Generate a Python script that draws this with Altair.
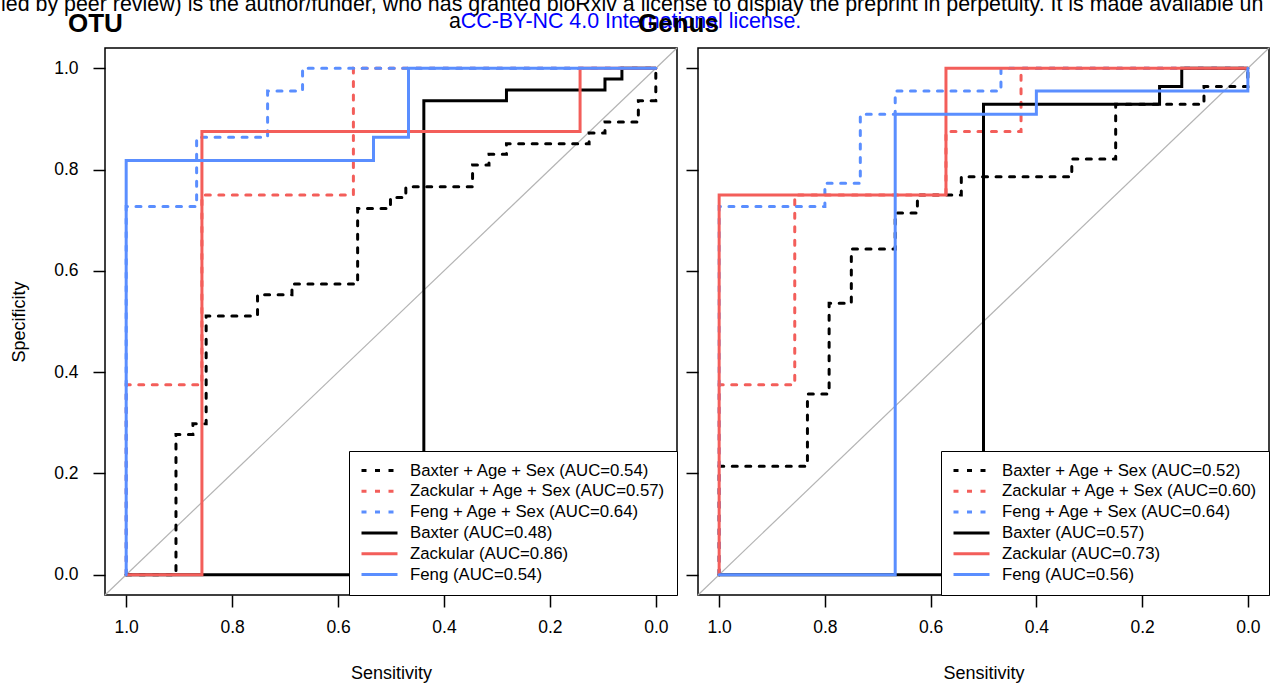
import altair as alt
import pandas as pd

FONT = "Liberation Sans"
RED = "#F35E5A"
BLUE = "#5A8EFF"
BLACK = "#000000"
GREY = "#B4B4B4"

# ---- legend text and AUCs, in drawing order ----
series_names = ["Baxter + Age + Sex", "Zackular + Age + Sex", "Feng + Age + Sex",
                "Baxter", "Zackular", "Feng"]
otu_auc = ["0.54", "0.57", "0.64", "0.48", "0.86", "0.54"]
genus_auc = ["0.52", "0.60", "0.64", "0.57", "0.73", "0.56"]

# ---- OTU models: ROC corners (sensitivity, specificity) ----
otu_baxter_as_sens = [1.0, 0.906, 0.906, 0.874, 0.874, 0.849, 0.849, 0.752, 0.752, 0.687, 0.687,
                      0.563, 0.563, 0.501, 0.501, 0.472, 0.472, 0.346, 0.346, 0.315, 0.315,
                      0.282, 0.282, 0.126, 0.126, 0.096, 0.096, 0.033, 0.033, 0.0, 0.0]
otu_baxter_as_spec = [0.0, 0.0, 0.277, 0.277, 0.298, 0.298, 0.511, 0.511, 0.553, 0.553, 0.574,
                      0.574, 0.723, 0.723, 0.745, 0.745, 0.766, 0.766, 0.809, 0.809, 0.830,
                      0.830, 0.851, 0.851, 0.872, 0.872, 0.894, 0.894, 0.936, 0.936, 1.0]
otu_zackular_as_sens = [1.0, 1.0, 0.857, 0.857, 0.571, 0.571, 0.0]
otu_zackular_as_spec = [0.0, 0.375, 0.375, 0.75, 0.75, 1.0, 1.0]
otu_feng_as_sens = [1.0, 1.0, 0.867, 0.867, 0.733, 0.733, 0.667, 0.667, 0.0]
otu_feng_as_spec = [0.0, 0.727, 0.727, 0.864, 0.864, 0.955, 0.955, 1.0, 1.0]
otu_baxter_sens = [1.0, 0.438, 0.438, 0.282, 0.282, 0.096, 0.096, 0.064, 0.064, 0.0]
otu_baxter_spec = [0.0, 0.0, 0.936, 0.936, 0.957, 0.957, 0.979, 0.979, 1.0, 1.0]
otu_zackular_sens = [1.0, 0.857, 0.857, 0.143, 0.143, 0.0]
otu_zackular_spec = [0.0, 0.0, 0.875, 0.875, 1.0, 1.0]
otu_feng_sens = [1.0, 1.0, 0.533, 0.533, 0.467, 0.467, 0.0]
otu_feng_spec = [0.0, 0.818, 0.818, 0.864, 0.864, 1.0, 1.0]

# ---- Genus models ----
genus_baxter_as_sens = [1.0, 1.0, 0.833, 0.833, 0.792, 0.792, 0.75, 0.75, 0.667, 0.667, 0.625,
                        0.625, 0.542, 0.542, 0.333, 0.333, 0.25, 0.25, 0.083, 0.083, 0.0, 0.0]
genus_baxter_as_spec = [0.0, 0.214, 0.214, 0.357, 0.357, 0.536, 0.536, 0.643, 0.643, 0.714, 0.714,
                        0.75, 0.75, 0.786, 0.786, 0.821, 0.821, 0.929, 0.929, 0.964, 0.964, 1.0]
genus_zackular_as_sens = [1.0, 1.0, 0.857, 0.857, 0.571, 0.571, 0.429, 0.429, 0.0]
genus_zackular_as_spec = [0.0, 0.375, 0.375, 0.75, 0.75, 0.875, 0.875, 1.0, 1.0]
genus_feng_as_sens = [1.0, 1.0, 0.8, 0.8, 0.733, 0.733, 0.667, 0.667, 0.467, 0.467, 0.0]
genus_feng_as_spec = [0.0, 0.727, 0.727, 0.773, 0.773, 0.909, 0.909, 0.955, 0.955, 1.0, 1.0]
genus_baxter_sens = [1.0, 0.5, 0.5, 0.167, 0.167, 0.125, 0.125, 0.0]
genus_baxter_spec = [0.0, 0.0, 0.929, 0.929, 0.964, 0.964, 1.0, 1.0]
genus_zackular_sens = [1.0, 1.0, 0.571, 0.571, 0.0]
genus_zackular_spec = [0.0, 0.75, 0.75, 1.0, 1.0]
genus_feng_sens = [1.0, 0.667, 0.667, 0.4, 0.4, 0.0, 0.0]
genus_feng_spec = [0.0, 0.0, 0.909, 0.909, 0.955, 0.955, 1.0]

# chance line, running corner to corner of the padded frame
chance_sens = [1.04, -0.04]
chance_spec = [-0.04, 1.04]

tick_values = [0.0, 0.2, 0.4, 0.6, 0.8, 1.0]

header_line = ("ied by peer review) is the author/funder, who has granted bioRxiv a license "
               "to display the preprint in perpetuity. It is made available under")
license_prefix = "a"
license_text = "CC-BY-NC 4.0 International license."

otu_curves = [
    (otu_baxter_as_sens, otu_baxter_as_spec),
    (otu_zackular_as_sens, otu_zackular_as_spec),
    (otu_feng_as_sens, otu_feng_as_spec),
    (otu_baxter_sens, otu_baxter_spec),
    (otu_zackular_sens, otu_zackular_spec),
    (otu_feng_sens, otu_feng_spec),
]
genus_curves = [
    (genus_baxter_as_sens, genus_baxter_as_spec),
    (genus_zackular_as_sens, genus_zackular_as_spec),
    (genus_feng_as_sens, genus_feng_as_spec),
    (genus_baxter_sens, genus_baxter_spec),
    (genus_zackular_sens, genus_zackular_spec),
    (genus_feng_sens, genus_feng_spec),
]

series_colors = [BLACK, RED, BLUE, BLACK, RED, BLUE]
DASHED = [5, 8.5]
SOLID = [1, 0]
series_dash = [DASHED, DASHED, DASHED, SOLID, SOLID, SOLID]

PLOT_W = 572
PLOT_H = 547


def text_layer(text, x, y, size, color="black", weight="normal", limit=0):
    props = dict(align="left", baseline="alphabetic", font=FONT, fontSize=size,
                 color=color, fontWeight=weight)
    if limit:
        # cut the running header at the page edge without an ellipsis glyph
        props.update(limit=limit, ellipsis=" ")
    return alt.Chart(pd.DataFrame({"t": [text]})).mark_text(**props).encode(
        text="t:N", x=alt.value(x), y=alt.value(y))


def roc_panel(curves, auc, title, title_dx, left_panel):
    labels = [f"{n} (AUC={a})" for n, a in zip(series_names, auc)]

    x_axis = alt.Axis(values=tick_values, format=".1f", grid=False, domain=False,
                      tickSize=12, tickWidth=1.5, tickColor="black",
                      labelFont=FONT, labelFontSize=17.5, labelColor="black",
                      labelPadding=11, labelFlush=False, labelOverlap=False,
                      title="Sensitivity", titleFont=FONT, titleFontSize=18,
                      titleFontWeight="normal", titleColor="black", titlePadding=29)
    if left_panel:
        y_axis = alt.Axis(values=tick_values, format=".1f", grid=False, domain=False,
                          tickSize=12, tickWidth=1.5, tickColor="black",
                          labelFont=FONT, labelFontSize=17.5, labelColor="black",
                          labelPadding=15, labelFlush=False, labelOverlap=False,
                          title="Specificity", titleFont=FONT, titleFontSize=18,
                          titleFontWeight="normal", titleColor="black", titlePadding=25)
    else:
        y_axis = alt.Axis(values=tick_values, grid=False, domain=False, labels=False,
                          tickSize=12, tickWidth=1.5, tickColor="black", title=None)

    x_enc = alt.X("sens:Q", scale=alt.Scale(domain=[1.04, -0.04], nice=False, zero=False),
                  axis=x_axis)
    y_enc = alt.Y("spec:Q", scale=alt.Scale(domain=[-0.04, 1.04], nice=False, zero=False),
                  axis=y_axis)

    legend = alt.Legend(title=None, orient="bottom-right", offset=0, padding=11,
                        strokeColor="black", fillColor="white",
                        symbolType="stroke", symbolSize=1296, symbolStrokeWidth=3,
                        labelFont=FONT, labelFontSize=16.8, labelColor="black",
                        labelOffset=11, labelLimit=400, clipHeight=17, rowPadding=2.8)
    color_enc = alt.Color("series:N", scale=alt.Scale(domain=labels, range=series_colors),
                          legend=legend)
    dash_enc = alt.StrokeDash("series:N", scale=alt.Scale(domain=labels, range=series_dash),
                              legend=legend)

    chance = alt.Chart(pd.DataFrame({"sens": chance_sens, "spec": chance_spec})).mark_line(
        color=GREY, strokeWidth=1.2).encode(x=x_enc, y=y_enc)

    layers = [chance]
    for label, (sens, spec) in zip(labels, curves):
        df = pd.DataFrame({"sens": sens, "spec": spec,
                           "step": list(range(len(sens))), "series": label})
        layers.append(
            alt.Chart(df).mark_line(strokeWidth=3, strokeCap="round").encode(
                x=x_enc, y=y_enc, order=alt.Order("step:Q"),
                color=color_enc, strokeDash=dash_enc)
        )

    layers.append(text_layer(title, title_dx, -16, 26, weight="bold"))
    if left_panel:
        layers.append(text_layer(header_line, -104, -37, 21.4, limit=1270))
        layers.append(text_layer(license_prefix, 344, -20, 21.4))
        layers.append(text_layer(license_text, 355.8, -20, 21.4, color="#0000FF"))

    return alt.layer(*layers).properties(width=PLOT_W, height=PLOT_H)


left = roc_panel(otu_curves, otu_auc, "OTU", -37, True)
right = roc_panel(genus_curves, genus_auc, "Genus", -60, False).properties(width=571)

chart = (
    alt.hconcat(left, right, spacing=21, bounds="flush")
    .resolve_scale(color="independent", strokeDash="independent")
    .properties(padding={"left": 0, "top": -7, "right": 0, "bottom": 0},
                background="white")
    .configure_view(stroke="black", strokeWidth=1.5)
)

chart.save("out.html", embed_options={"renderer": "svg", "actions": False})
